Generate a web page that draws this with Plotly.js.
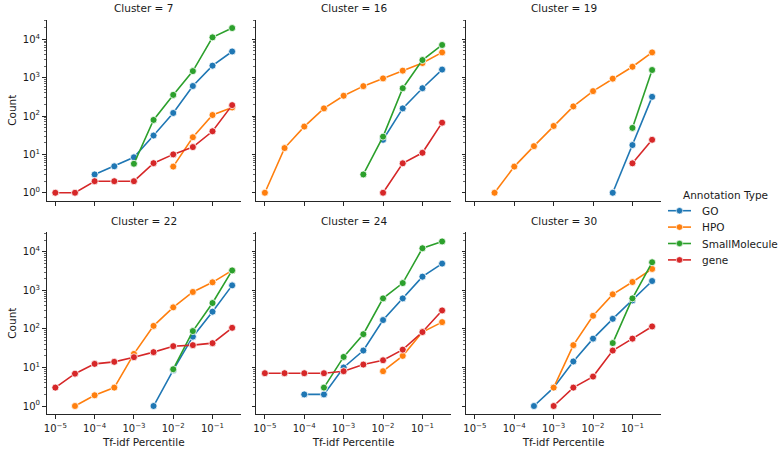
<!DOCTYPE html>
<html>
<head>
<meta charset="utf-8">
<script src="https://cdn.plot.ly/plotly-3.0.1.min.js"></script>
<style>html,body{margin:0;padding:0;background:#fff;}#chart{width:780px;height:454px;}</style>
</head>
<body>
<div id="chart"></div>
<script>
// ---- data ----
const tfidfPercentile = [0.00001, 0.0000316, 0.0001, 0.000316, 0.001, 0.00316, 0.01, 0.0316, 0.1, 0.316];
const annotationTypes = ['GO', 'HPO', 'SmallMolecule', 'gene'];
const clusters = ['7', '16', '19', '22', '24', '30'];

const c7_GO   = [null, null, 3, 4.9, 8.4, 31, 120, 605, 2050, 4800];
const c7_HPO  = [null, null, null, null, null, null, 4.8, 28, 106, 167];
const c7_SM   = [null, null, null, null, 5.7, 79, 355, 1480, 11200, 19600];
const c7_gene = [1, 1, 2, 2, 2, 5.9, 10, 15.5, 40, 192];

const c16_GO   = [null, null, null, null, null, null, 24, 158, 530, 1620];
const c16_HPO  = [1, 14.6, 53, 158, 337, 600, 955, 1520, 2400, 4550];
const c16_SM   = [null, null, null, null, null, 3, 29, 530, 2870, 7100];
const c16_gene = [null, null, null, null, null, null, 1, 5.85, 11, 67];

const c19_GO   = [null, null, null, null, null, null, null, 1, 17.5, 316];
const c19_HPO  = [null, 1, 4.8, 16.4, 55, 178, 445, 940, 1920, 4550];
const c19_SM   = [null, null, null, null, null, null, null, null, 49, 1580];
const c19_gene = [null, null, null, null, null, null, null, null, 5.85, 24];

const c22_GO   = [null, null, null, null, null, 1, 8.5, 63, 280, 1350];
const c22_HPO  = [null, 1, 1.9, 3, 22.5, 120, 363, 910, 1620, 3300];
const c22_SM   = [null, null, null, null, null, null, 9, 88, 470, 3300];
const c22_gene = [3, 6.9, 12.4, 14, 18.5, 25, 35.7, 38, 42.7, 107];

const c24_GO   = [null, null, 2, 2, 10, 27.5, 170, 620, 2270, 4950];
const c24_HPO  = [null, null, null, null, null, null, 8, 20, 83, 150];
const c24_SM   = [null, null, null, 3, 18.8, 73, 620, 1550, 12400, 18600];
const c24_gene = [7.1, 7.1, 7.1, 7.1, 8, 11.9, 15.4, 29, 83, 302];

const c30_GO   = [null, null, null, 1, 3, 14.3, 56, 183, 550, 1750];
const c30_HPO  = [null, null, null, null, 3, 38, 219, 790, 1650, 3600];
const c30_SM   = [null, null, null, null, null, null, null, 43, 620, 5370];
const c30_gene = [null, null, null, null, 1, 3, 5.8, 27.5, 56, 116];

const xTickVals = [0.00001, 0.0001, 0.001, 0.01, 0.1];
const xTickText = ['10<sup>\u22125</sup>', '10<sup>\u22124</sup>', '10<sup>\u22123</sup>', '10<sup>\u22122</sup>', '10<sup>\u22121</sup>'];
const yTickVals = [1, 10, 100, 1000, 10000];
const yTickText = ['10<sup>0</sup>', '10<sup>1</sup>', '10<sup>2</sup>', '10<sup>3</sup>', '10<sup>4</sup>'];

// ---- build ----
const W = 780, H = 454;
const colors = ['#1f77b4', '#ff7f0e', '#2ca02c', '#d62728'];
const FONT = 'DejaVu Sans, sans-serif';
const TXT = '#1a1a1a';
const AX = '#262626';

const panelSeries = [
  [c7_GO, c7_HPO, c7_SM, c7_gene],
  [c16_GO, c16_HPO, c16_SM, c16_gene],
  [c19_GO, c19_HPO, c19_SM, c19_gene],
  [c22_GO, c22_HPO, c22_SM, c22_gene],
  [c24_GO, c24_HPO, c24_SM, c24_gene],
  [c30_GO, c30_HPO, c30_SM, c30_gene]
];

// panel geometry in px
const colX = [[46.5, 241], [256, 451], [466, 661]];
const rowY = [[19.5, 201], [232, 414.3]];

const minorY = [];
for (let d = 0; d <= 4; d++) for (let m = 2; m <= 9; m++) minorY.push(m * Math.pow(10, d));

const traces = [];
const layout = {
  width: W, height: H,
  margin: {l: 0, r: 0, t: 0, b: 0},
  paper_bgcolor: '#fff', plot_bgcolor: '#fff',
  showlegend: false,
  font: {family: FONT, size: 10, color: TXT},
  annotations: [], shapes: []
};

panelSeries.forEach((series, p) => {
  const r = Math.floor(p / 3), c = p % 3;
  const xa = p === 0 ? 'x' : 'x' + (p + 1);
  const ya = p === 0 ? 'y' : 'y' + (p + 1);
  series.forEach((vals, s) => {
    traces.push({
      type: 'scatter', mode: 'lines+markers',
      x: tfidfPercentile, y: vals,
      xaxis: xa, yaxis: ya,
      name: annotationTypes[s],
      line: {color: colors[s], width: 1.6},
      marker: {color: colors[s], size: 7, line: {color: '#fff', width: 0.8}},
      connectgaps: false,
      hoverinfo: 'skip'
    });
  });
  const xKey = p === 0 ? 'xaxis' : 'xaxis' + (p + 1);
  const yKey = p === 0 ? 'yaxis' : 'yaxis' + (p + 1);
  layout[xKey] = {
    type: 'log', range: [-5.225, -0.275],
    domain: [colX[c][0] / W, colX[c][1] / W],
    anchor: ya,
    showgrid: false, zeroline: false,
    showline: true, linecolor: AX, linewidth: 1,
    ticks: 'outside', ticklen: 3.5, tickwidth: 1, tickcolor: AX,
    tickmode: 'array', tickvals: xTickVals, ticktext: xTickText,
    showticklabels: r === 1,
    ticklabelstandoff: 1,
    tickfont: {family: FONT, size: 10, color: TXT},
    title: r === 1 ? {text: 'Tf-idf Percentile', font: {family: FONT, size: 10.5, color: TXT}, standoff: 5} : {text: ''},
    automargin: false, fixedrange: true
  };
  layout[yKey] = {
    type: 'log', range: [-0.215, 4.515],
    domain: [1 - rowY[r][1] / H, 1 - rowY[r][0] / H],
    anchor: xa,
    showgrid: false, zeroline: false,
    showline: true, linecolor: AX, linewidth: 1,
    ticks: 'outside', ticklen: 3.5, tickwidth: 1, tickcolor: AX,
    tickmode: 'array', tickvals: yTickVals, ticktext: yTickText,
    minor: {tickmode: 'array', tickvals: minorY, ticks: 'outside', ticklen: 2, tickwidth: 0.7, tickcolor: AX, showgrid: false},
    showticklabels: c === 0,
    tickfont: {family: FONT, size: 10, color: TXT},
    title: c === 0 ? {text: 'Count', font: {family: FONT, size: 10.5, color: TXT}, standoff: 4} : {text: ''},
    automargin: false, fixedrange: true
  };
  layout.annotations.push({
    text: 'Cluster = ' + clusters[p],
    xref: 'paper', yref: 'paper',
    x: (colX[c][0] + colX[c][1]) / 2 / W,
    y: 1 - (rowY[r][0] - 11) / H,
    xanchor: 'center', yanchor: 'middle', showarrow: false,
    font: {family: FONT, size: 10.5, color: TXT}
  });
});

// legend (manual, seaborn style)
const legX0 = 668, legX1 = 691, legTextX = 700;
const legTitleY = 195, legY0 = 210.7, legDY = 16.4;
layout.annotations.push({
  text: 'Annotation Type', xref: 'paper', yref: 'paper',
  x: 681 / W, y: 1 - legTitleY / H, xanchor: 'left', yanchor: 'middle',
  showarrow: false, font: {family: FONT, size: 10.5, color: TXT}
});
annotationTypes.forEach((name, s) => {
  const y = legY0 + s * legDY;
  layout.shapes.push({
    type: 'line', xref: 'paper', yref: 'paper',
    x0: legX0 / W, x1: legX1 / W, y0: 1 - y / H, y1: 1 - y / H,
    line: {color: colors[s], width: 1.6}
  });
  const cx = (legX0 + legX1) / 2, rr = 3.2;
  layout.shapes.push({
    type: 'circle', xref: 'paper', yref: 'paper',
    x0: (cx - rr) / W, x1: (cx + rr) / W, y0: 1 - (y + rr) / H, y1: 1 - (y - rr) / H,
    fillcolor: colors[s], line: {color: '#fff', width: 0.6}
  });
  layout.annotations.push({
    text: name, xref: 'paper', yref: 'paper',
    x: legTextX / W, y: 1 - y / H, xanchor: 'left', yanchor: 'middle',
    showarrow: false, font: {family: FONT, size: 10.5, color: TXT}
  });
});

Plotly.newPlot('chart', traces, layout, {staticPlot: true, displayModeBar: false});
</script>
</body>
</html>
